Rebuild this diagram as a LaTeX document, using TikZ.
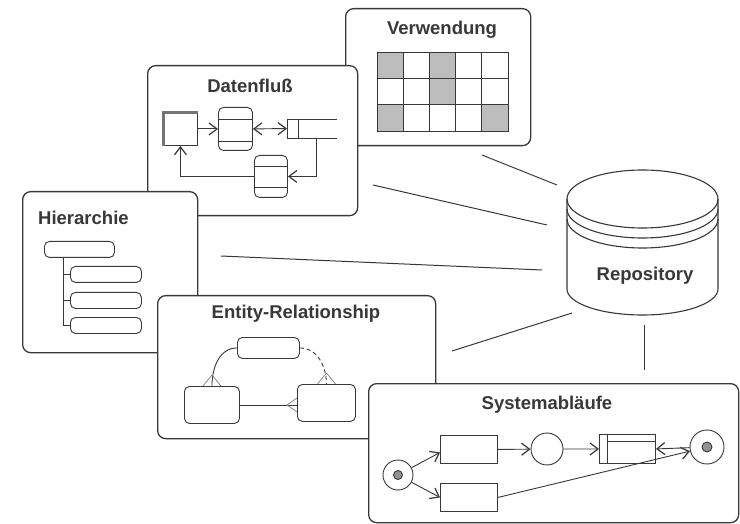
\documentclass[tikz,border=0pt]{standalone}
\usepackage{fontspec}
\setmainfont{Liberation Sans}
\usetikzlibrary{arrows.meta}
\definecolor{ink}{gray}{0.22}
\definecolor{cellgray}{gray}{0.74}
\begin{document}
\begin{tikzpicture}[x=1pt,y=-1pt,
  panel/.style={draw=ink, line width=1.3pt, fill=white, rounded corners=8pt, anchor=north west, inner sep=0pt},
  ttl/.style={font=\fontsize{18.5}{20}\selectfont\bfseries, text=ink, inner sep=0pt},
  thin/.style={draw=ink, line width=0.9pt},
  box/.style={thin, fill=white, anchor=north west, inner sep=0pt},
  rbox/.style={box, rounded corners=5pt},
  link/.style={draw=ink, line width=1pt},
  arr/.style={thin, -{Straight Barb[length=8pt,width=12pt,line width=1.2pt]}},
  darr/.style={thin, {Straight Barb[length=8pt,width=12pt,line width=1.2pt]}-{Straight Barb[length=8pt,width=12pt,line width=1.2pt]}},
  foot/.style={draw=ink!60, line width=0.8pt},
  cyl/.style={draw=ink, line width=1.1pt}
]
\useasboundingbox (0,0) rectangle (740,524);

% ---------- connectors to repository ----------
\coordinate (cv1) at (482,155); \coordinate (cv2) at (557,185);
\coordinate (cd1) at (373,185); \coordinate (cd2) at (547,225);
\coordinate (ch1) at (221,256); \coordinate (ch2) at (542,270);
\coordinate (ce1) at (452,351); \coordinate (ce2) at (572,313);
\coordinate (cs1) at (644,325); \coordinate (cs2) at (644,370);
\draw[link] (cv1) -- (cv2);
\draw[link] (cd1) -- (cd2);
\draw[link] (ch1) -- (ch2);
\draw[link] (ce1) -- (ce2);
\draw[link] (cs1) -- (cs2);

% ---------- Repository ----------
\draw[cyl, fill=white] (567,199) -- (567,289)
  arc[start angle=180, end angle=360, x radius=75.5pt, y radius=26pt] -- (718,199);
\draw[cyl] (642.5,199) ellipse [x radius=75.5pt, y radius=29pt];
\draw[cyl] (567,209) arc[start angle=180, end angle=360, x radius=75.5pt, y radius=29pt];
\draw[cyl] (567,219) arc[start angle=180, end angle=360, x radius=75.5pt, y radius=29pt];
\node[ttl] (repo) at (645,276) {Repository};

% ---------- Verwendung ----------
\node[panel, minimum width=185pt, minimum height=137pt] (verw) at (345,8) {};
\node[ttl] (verwt) at (442,30) {Verwendung};
\foreach \c/\r in {0/0, 2/0, 2/1, 0/2, 4/2}{
  \fill[cellgray] (377+26.2*\c,52+26.33*\r) rectangle ++(26.2,26.33);
}
\node[thin, anchor=north west, inner sep=0pt, minimum width=131pt, minimum height=79pt] (grid) at (377,52) {};
\foreach \c in {1,2,3,4}{ \draw[thin] (377+26.2*\c,52) -- (377+26.2*\c,131); }
\foreach \r in {1,2}{ \draw[thin] (377,52+26.33*\r) -- (508,52+26.33*\r); }

% ---------- Datenfluss ----------
\node[panel, minimum width=210pt, minimum height=150pt] (datf) at (147,65) {};
\node[ttl] (datft) at (250,86) {Datenfluß};
\node[box, minimum width=34pt, minimum height=33pt] (ext) at (163,112) {};
\draw[draw=ink!70, line width=2.2pt] ([xshift=0.5pt]ext.south west) -- ([xshift=0.5pt,yshift=-0.5pt]ext.north west) -- ([yshift=-0.5pt]ext.north east);
\node[rbox, minimum width=34pt, minimum height=43pt] (st1) at (218,107) {};
\draw[thin] (218,119) -- (252,119);
\draw[thin] (218,141) -- (252,141);
\coordinate (dsw) at (287,128.5);
\coordinate (dsb) at (316,138);
\draw[thin] (337,119) -- (287,119) -- (287,138) -- (337,138);
\draw[thin] (298,119) -- (298,138);
\node[rbox, minimum width=33pt, minimum height=42pt] (st2) at (254,155) {};
\draw[thin] (254,166) -- (287,166);
\draw[thin] (254,187) -- (287,187);
\draw[arr] (ext.east) -- (st1.west);
\draw[darr] (st1.east) -- (dsw);
\draw[arr] (dsb) |- (st2.east);
\draw[arr] (st2.west) -| (ext.south);

% ---------- Hierarchie ----------
\node[panel, minimum width=175pt, minimum height=161pt] (hier) at (22,191) {};
\node[ttl, anchor=west] (hiert) at (38,218) {Hierarchie};
\node[rbox, minimum width=70pt, minimum height=16pt] (hroot) at (44,241) {};
\node[rbox, minimum width=71pt, minimum height=16pt] (hc1) at (70,266) {};
\node[rbox, minimum width=71pt, minimum height=16pt] (hc2) at (70,292) {};
\node[rbox, minimum width=71pt, minimum height=16pt] (hc3) at (70,317) {};
\coordinate (hstem) at (63,257);
\draw[thin] (hstem) |- (hc3.west);
\draw[thin] (hstem |- hc1.west) -- (hc1.west);
\draw[thin] (hstem |- hc2.west) -- (hc2.west);

% ---------- Entity-Relationship ----------
\node[panel, minimum width=278pt, minimum height=143pt] (er) at (157,295) {};
\node[ttl] (ert) at (296,314) {Entity-Relationship};
\node[rbox, minimum width=62pt, minimum height=21pt] (etop) at (237,337) {};
\node[rbox, minimum width=55pt, minimum height=37pt] (eleft) at (184,386) {};
\node[rbox, minimum width=58pt, minimum height=37pt] (eright) at (297,384) {};
\draw[thin] (etop.west) to[out=180, in=90] (eleft.north);
\draw[thin, dash pattern=on 4pt off 3pt] (etop.east) to[out=0, in=90] (eright.north);
\draw[thin] (eleft.east) -- (eright.west |- eleft.east);
\draw[foot] ([yshift=11pt]eleft.north) -- ([xshift=-9pt]eleft.north)
            ([yshift=11pt]eleft.north) -- ([xshift=9pt]eleft.north);
\draw[foot] ([yshift=11pt]eright.north) -- ([xshift=-9pt]eright.north)
            ([yshift=11pt]eright.north) -- ([xshift=9pt]eright.north);
\coordinate (efoot) at (eright.west |- eleft.east);
\draw[foot] ([xshift=-10pt]efoot) -- ([yshift=7pt]efoot)
            ([xshift=-10pt]efoot) -- ([yshift=-7pt]efoot);

% ---------- Systemablaeufe ----------
\node[panel, minimum width=370pt, minimum height=139pt] (sys) at (368,383) {};
\node[ttl] (syst) at (547,405) {Systemabläufe};
\node[thin, circle, minimum size=30pt, inner sep=0pt, fill=white] (sstart) at (398,475) {};
\fill[ink!55] (sstart) circle (4.5pt);
\draw[thin] (sstart) circle (4.5pt);
\node[box, minimum width=57pt, minimum height=28pt] (sa) at (440,435) {};
\node[box, minimum width=57pt, minimum height=28pt] (sb) at (440,483) {};
\node[thin, circle, minimum size=32pt, inner sep=0pt] (sc) at (547,449) {};
\node[box, minimum width=56pt, minimum height=29pt] (sd) at (599,434) {};
\draw[thin] (607,434) -- (607,463);
\draw[thin] (607,441) -- (655,441);
\node[thin, circle, minimum size=34pt, inner sep=0pt] (send) at (707,447) {};
\fill[ink!55] (send) circle (5pt);
\draw[thin] (send) circle (5pt);
\draw[arr] (sstart) -- ([yshift=-3pt]sa.west);
\draw[arr] (sstart) -- (sb.west);
\draw[arr] (sa.east) -- (sc);
\draw[arr] (sc) -- (sd.west);
\draw[arr] (send) -- (sd.east);
\draw[arr] (sb.east) -- (send);
\end{tikzpicture}
\end{document}
